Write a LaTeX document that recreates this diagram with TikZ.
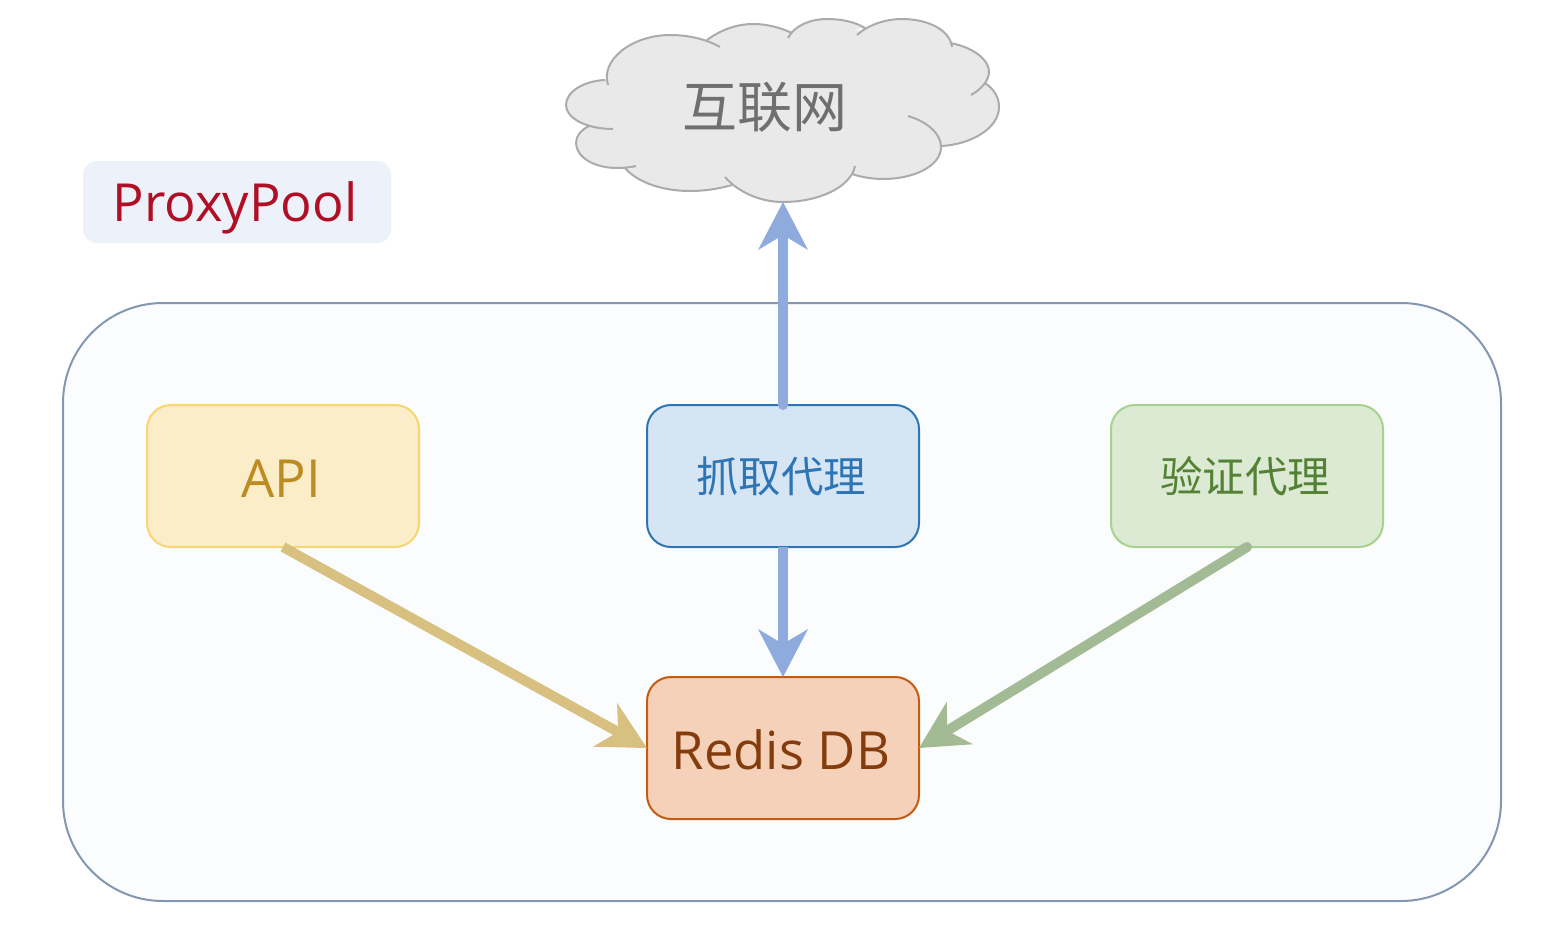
\documentclass[tikz,border=0pt]{standalone}
\usepackage{fontspec}
\setmainfont{Open Sans}
\newfontfamily\cjk{Noto Sans CJK SC}
\usetikzlibrary{arrows.meta}

\definecolor{framefill}{HTML}{FBFCFE}
\definecolor{framedraw}{HTML}{8497B0}
\definecolor{titlefill}{HTML}{EDF1F9}
\definecolor{titletext}{HTML}{B01025}
\definecolor{apifill}{HTML}{FBEDC8}
\definecolor{apidraw}{HTML}{F9D56E}
\definecolor{apitext}{HTML}{BC8C22}
\definecolor{apiline}{HTML}{D8C080}
\definecolor{fetchfill}{HTML}{D5E5F3}
\definecolor{fetchdraw}{HTML}{2E75B6}
\definecolor{fetchline}{HTML}{8FAADC}
\definecolor{checkfill}{HTML}{DCEAD3}
\definecolor{checkdraw}{HTML}{A9D18E}
\definecolor{checktext}{HTML}{548235}
\definecolor{checkline}{HTML}{A3BB95}
\definecolor{redisfill}{HTML}{F5D1BA}
\definecolor{redisdraw}{HTML}{C55A11}
\definecolor{redistext}{HTML}{843C0C}
\definecolor{netfill}{HTML}{E9E9E9}
\definecolor{netdraw}{HTML}{ABABAB}
\definecolor{nettext}{HTML}{6F6F6F}

\newcommand{\netlobes}{
  (608,85) .. controls (600,60) and (632,35) .. (670,35) .. controls (688,35) and (706,39) .. (720,47)
  (707,40) .. controls (722,29) and (738,24) .. (753,24) .. controls (768,24) and (781,28) .. (792,33)
  (788,38) .. controls (794,26) and (810,19) .. (827,19) .. controls (842,19) and (855,22) .. (865,28)
  (857,35) .. controls (868,25) and (885,19) .. (902,19) .. controls (928,19) and (950,30) .. (952,47)
  (950,43) .. controls (973,47) and (990,60) .. (989,73) .. controls (988,82) and (980,90) .. (971,95)
  (985,83) .. controls (995,90) and (999,98) .. (999,107) .. controls (999,128) and (972,144) .. (942,146)
  (908,116) .. controls (928,122) and (941,134) .. (941,147) .. controls (941,166) and (914,179) .. (883,179) .. controls (872,179) and (861,177) .. (852,174)
  (855,166) .. controls (851,187) and (819,202) .. (783,202) .. controls (759,202) and (737,191) .. (725,177)
  (732,185) .. controls (718,189) and (704,191) .. (690,191) .. controls (660,191) and (636,181) .. (625,168)
  (636,166) .. controls (630,167.5) and (623,168) .. (617,168) .. controls (594,168) and (576,157) .. (576,143) .. controls (576,136) and (581,130) .. (589,126)
  (613,129) .. controls (586,129) and (566,118) .. (566,105) .. controls (566,92) and (583,81) .. (605,80)
}

\begin{document}
\begin{tikzpicture}[x=1pt,y=-1pt,
        box/.style={draw,line width=2pt,rounded corners=24pt,minimum width=272pt,minimum height=142pt,inner sep=0pt,outer sep=0pt,font=\fontsize{52.5}{60}\selectfont,text height=42pt,text depth=0pt,execute at end node=\hspace{4pt}},
        cnbox/.style={box,font=\cjk\fontsize{42.5}{50}\selectfont,text height=38pt,text depth=5pt},
        flow/.style={line width=10pt,-{Stealth[length=48pt,width=50pt,inset=15pt,line width=0pt]}}]
        \useasboundingbox (0,0) rectangle (1560,940);

        \node (frame) [draw=framedraw,fill=framefill,line width=2pt,rounded corners=100pt,minimum width=1438pt,minimum height=598pt] at (782,602) {};
        \node (title) [fill=titlefill,rounded corners=14pt,minimum width=308pt,minimum height=82pt,inner sep=0pt,text depth=0pt,text=titletext,font=\fontsize{52.5}{60}\selectfont,execute at end node=\hspace{4pt}] at (237,202) {ProxyPool};

        \filldraw[netfill,line width=3pt,line join=round] (606,82) -- (650,42) -- (710,42) -- (753,28) -- (790,35) -- (827,23) -- (860,32) -- (902,23) -- (951,45) -- (980,88) -- (990,107) -- (965,135) -- (942,146) -- (883,175) -- (855,170) -- (783,198) -- (730,182) -- (690,187) -- (632,167) -- (590,127) -- cycle;
        \fill[netfill] \netlobes;
        \draw[netdraw,line width=2pt] \netlobes;
        \node (net) [inner sep=0pt,text=nettext,font=\cjk\fontsize{55}{60}\selectfont] at (765,107) {互联网};
        \coordinate (netin) at (783,202);

        \node (api) [box,draw=apidraw,fill=apifill,text=apitext] at (283,476) {API};
        \node (fetch) [cnbox,draw=fetchdraw,fill=fetchfill,text=fetchdraw] at (783,476) {抓取代理};
        \node (check) [cnbox,draw=checkdraw,fill=checkfill,text=checktext] at (1247,476) {验证代理};
        \node (redis) [box,draw=redisdraw,fill=redisfill,text=redistext] at (783,748) {Redis DB};

        \draw[flow,fetchline,line cap=round] (fetch.north) -- (netin);
        \draw[flow,fetchline] (fetch.south) -- (redis.north);
        \draw[flow,apiline] (api.south) -- (redis.west);
        \draw[flow,checkline,line cap=round] (check.south) -- (redis.east);
\end{tikzpicture}
\end{document}
